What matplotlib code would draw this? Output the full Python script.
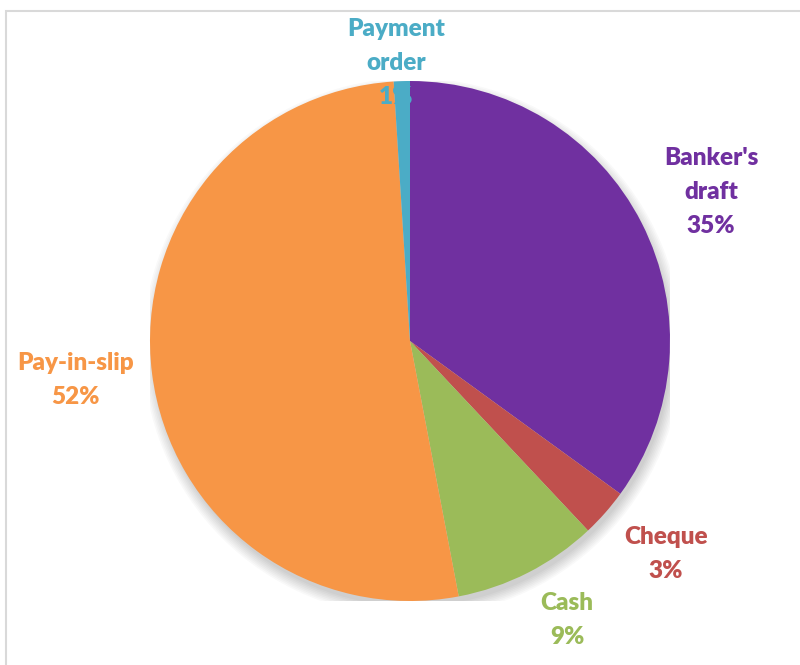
import matplotlib.pyplot as plt
from matplotlib.patches import Rectangle, Circle

plt.rcParams['font.family'] = ['Lato', 'DejaVu Sans']

categories = ["Banker's\ndraft", "Cheque", "Cash", "Pay-in-slip", "Payment\norder"]
shares = [35, 3, 9, 52, 1]
colors = ['#7030A0', '#C0504D', '#9BBB59', '#F79646', '#4BACC6']
# label centres in data units (pie radius = 1)
label_pos = [(1.158, 0.573), (0.985, -0.819), (0.604, -1.073), (-1.288, -0.15), (-0.054, 1.069)]

fig = plt.figure(figsize=(8, 6.65), dpi=100)

# chart area border
fig.patches.append(Rectangle((6 / 800, -0.1), 1.2, 1 - 11 / 665 + 0.1,
                             transform=fig.transFigure, fill=False,
                             edgecolor='#D9D9D9', linewidth=1.5))

ax = fig.add_axes([150 / 800, 64 / 665, 520 / 800, 520 / 665])

# soft shadow
for i in range(8):
    ax.add_patch(Circle((0.01, -0.025), 0.995 + 0.006 * i, color='black',
                        alpha=0.025, zorder=0, linewidth=0))

wedges, _ = ax.pie(shares, colors=colors, startangle=90, counterclock=False,
                   radius=1.0, wedgeprops=dict(linewidth=0))
for w in wedges:
    w.set_zorder(2)

for name, val, col, (x, y) in zip(categories, shares, colors, label_pos):
    ax.text(x, y, f"{name}\n{val}%", ha='center', va='center', color=col,
            fontsize=17.5, fontweight='heavy', linespacing=1.66, zorder=3)

ax.set_xlim(-1, 1)
ax.set_ylim(-1, 1)
ax.set_aspect('equal')
ax.axis('off')

fig.savefig('out.png', dpi=100)
